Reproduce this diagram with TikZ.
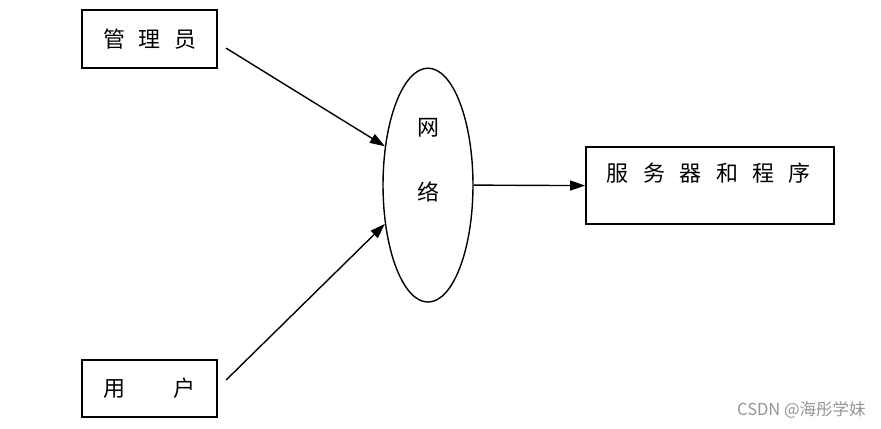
\documentclass[tikz,border=0pt]{standalone}
\usepackage{fontspec}
\newfontfamily\cjk{Noto Sans CJK SC}
\usetikzlibrary{arrows.meta,shapes.geometric}
\definecolor{markgray}{RGB}{150,150,150}

\begin{document}
\begin{tikzpicture}[x=1pt,y=1pt,
  box/.style={draw=black,line width=1.6pt,inner sep=0pt},
  word/.style={font=\cjk\fontsize{22}{22}\selectfont,inner sep=0pt},
  link/.style={line width=1.4pt,-{Triangle[length=15pt,width=10pt]}}]
\filldraw[color=white] (0.000000, 0.000000) rectangle (881.000000, 428.000000);
% Drawing boxes
\node[box,minimum width=135pt,minimum height=58pt,word] (admin) at (149.5,389.0) {管\hspace{13.5pt}理\hspace{13.5pt}员};
\node[box,minimum width=135pt,minimum height=57pt,word] (user) at (149.5,39.5) {用\hspace{48pt}户};
\node[box,minimum width=248pt,minimum height=77pt] (server) at (710.0,242.5) {};
\node[word] (serverlabel) at (709.0,255.0) {服\hspace{14.4pt}务\hspace{14.4pt}器\hspace{14.4pt}和\hspace{14.4pt}程\hspace{14.4pt}序};
% Drawing the network
\node[ellipse,draw=black,line width=1.4pt,minimum width=90pt,minimum height=234pt,inner sep=0pt] (net) at (428.0,243.0) {};
\node[word] (netup) at (428.0,300.0) {网};
\node[word] (netdown) at (428.0,236.0) {络};
% Drawing connectors
\coordinate (adminout) at (226.0,380.0);
\coordinate (userout) at (226.0,48.0);
\draw[link] (adminout) -- (net.138);
\draw[link] (userout) -- (net.222);
\draw[link] (net.east) -- (server.west);
% Done with connectors; drawing the mark
\node[font=\cjk\fontsize{16.5}{16.5}\selectfont,text=markgray,inner sep=0pt,anchor=east] (mark) at (866.0,18.0) {CSDN @海彤学妹};
\end{tikzpicture}
\end{document}
